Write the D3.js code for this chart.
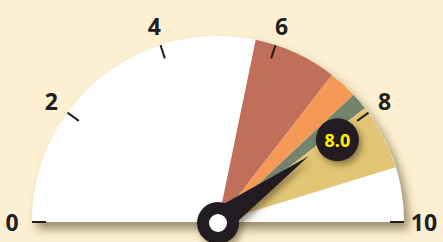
<!DOCTYPE html>
<html>
<head>
<meta charset="utf-8">
<script src="https://cdn.jsdelivr.net/npm/d3@7"></script>
<style>
  html, body { margin: 0; padding: 0; background: #fdf0d2; }
  svg { display: block; }
  text { font-family: "Noto Sans", "Open Sans", sans-serif; font-weight: bold; }
</style>
</head>
<body>
<div id="gauge"></div>
<script>
// gauge data
var scaleMin = 0, scaleMax = 10;
var tickValues = [0, 2, 4, 6, 8, 10];
var bandStarts = [5.65, 7.1, 7.6, 7.9];
var bandEnds = [7.1, 7.6, 7.9, 9.05];
var bandColors = ["#bf6f5a", "#f69856", "#74836c", "#e2c676"];
var needleValue = 8.0;
var needleLabel = "8.0";

var width = 443, height = 242;
var cx = 218, cy = 222, radius = 186;

var svg = d3
  .select("#gauge")
  .append("svg")
  .attr("width", width)
  .attr("height", height);

// drop shadows
var defs = svg.append("defs");
var f = defs.append("filter").attr("id", "shadow")
  .attr("x", "-20%").attr("y", "-20%").attr("width", "140%").attr("height", "150%");
f.append("feDropShadow").attr("dx", 5).attr("dy", 7).attr("stdDeviation", 5)
  .attr("flood-color", "#4a3a14").attr("flood-opacity", 0.55);
var f2 = defs.append("filter").attr("id", "shadow2")
  .attr("x", "-50%").attr("y", "-50%").attr("width", "200%").attr("height", "200%");
f2.append("feDropShadow").attr("dx", 3).attr("dy", 4).attr("stdDeviation", 3)
  .attr("flood-color", "#3a2e10").attr("flood-opacity", 0.5);

// value -> angle (0 = up, clockwise)
var angle = d3.scaleLinear().domain([scaleMin, scaleMax]).range([-Math.PI / 2, Math.PI / 2]);

function px(v, r) { return cx + r * Math.sin(angle(v)); }
function py(v, r) { return cy - r * Math.cos(angle(v)); }

var g = svg.append("g").attr("transform", "translate(" + cx + "," + cy + ")");

// dial face
g.append("path")
  .attr("d", d3.arc().innerRadius(0).outerRadius(radius)
    .startAngle(angle(scaleMin)).endAngle(angle(scaleMax))())
  .attr("fill", "#ffffff")
  .attr("filter", "url(#shadow)");

// colored bands
g.selectAll("path.band")
  .data(bandStarts)
  .enter()
  .append("path")
  .attr("class", "band")
  .attr("d", function (d, i) {
    return d3.arc().innerRadius(0).outerRadius(radius)
      .startAngle(angle(d)).endAngle(angle(bandEnds[i]))();
  })
  .attr("fill", function (d, i) { return bandColors[i]; });

// ticks
svg.selectAll("line.tick")
  .data(tickValues)
  .enter()
  .append("line")
  .attr("class", "tick")
  .attr("x1", function (d) { return px(d, radius - 14); })
  .attr("y1", function (d) { return py(d, radius - 14); })
  .attr("x2", function (d) { return px(d, radius); })
  .attr("y2", function (d) { return py(d, radius); })
  .attr("stroke", "#231f20")
  .attr("stroke-width", 2);

// tick labels
svg.selectAll("text.label")
  .data(tickValues)
  .enter()
  .append("text")
  .attr("class", "label")
  .attr("x", function (d) { return px(d, 206); })
  .attr("y", function (d) { return py(d, 206); })
  .attr("text-anchor", "middle")
  .attr("dominant-baseline", "central")
  .style("font-size", "23px")
  .attr("fill", "#231f20")
  .text(function (d) { return d; });

// needle
var a = angle(needleValue);
var tipR = 112, baseW = 13;
var needle = [
  [px(needleValue, tipR), py(needleValue, tipR)],
  [cx + baseW * Math.cos(a), cy + baseW * Math.sin(a)],
  [cx - baseW * Math.cos(a), cy - baseW * Math.sin(a)]
];
var hub = svg.append("g").attr("filter", "url(#shadow2)");
hub.append("path")
  .attr("d", "M" + needle.join("L") + "Z")
  .attr("fill", "#231f20");
hub.append("circle")
  .attr("cx", cx).attr("cy", cy + 1).attr("r", 21)
  .attr("fill", "#231f20");
svg.append("circle")
  .attr("cx", cx).attr("cy", cy + 1).attr("r", 9)
  .attr("fill", "#ffffff");

// value bubble
var bx = px(needleValue + 0.08, 145), by = py(needleValue + 0.08, 145);
svg.append("circle")
  .attr("cx", bx).attr("cy", by).attr("r", 21.5)
  .attr("fill", "#231f20")
  .attr("filter", "url(#shadow2)");
svg.append("text")
  .attr("x", bx).attr("y", by)
  .attr("text-anchor", "middle")
  .attr("dominant-baseline", "central")
  .style("font-size", "18px")
  .attr("fill", "#fff200")
  .text(needleLabel);
</script>
</body>
</html>
